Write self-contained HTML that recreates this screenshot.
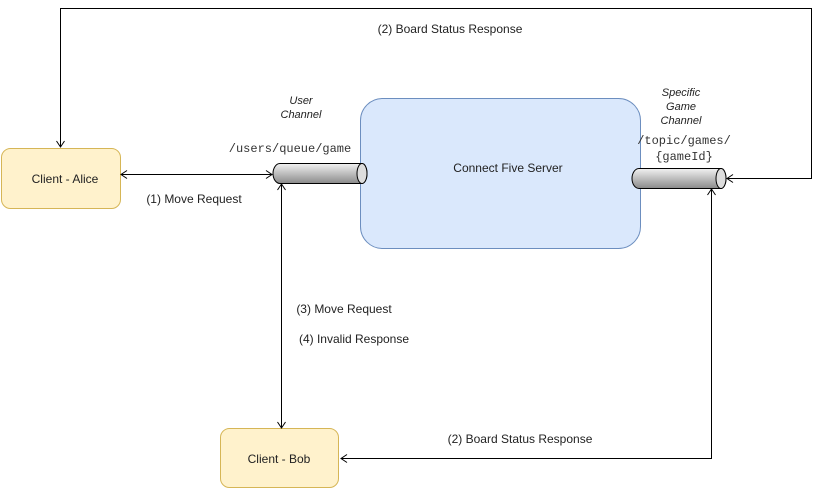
<!DOCTYPE html>
<html><head><style>body{margin:0;background:#fff}svg{display:block}</style></head><body>
<svg width="820" height="489" xmlns="http://www.w3.org/2000/svg" font-family="Liberation Sans, sans-serif" font-size="12">
<defs>
<linearGradient id="g" x1="0" y1="0" x2="0" y2="1"><stop offset="0" stop-color="#f2f2f2"/><stop offset="1" stop-color="#8a8a8a"/></linearGradient>
</defs>
<rect x="360.5" y="98.5" width="280" height="150" rx="22" fill="#dae8fc" stroke="#6c8ebf"/>
<text x="508" y="172" text-anchor="middle" fill="#222">Connect Five Server</text>
<rect x="1.5" y="148.5" width="119" height="60" rx="9" fill="#fff2cc" stroke="#d6b656"/>
<text x="65" y="183" text-anchor="middle" fill="#222">Client - Alice</text>
<rect x="220.5" y="428.5" width="118" height="59" rx="9" fill="#fff2cc" stroke="#d6b656"/>
<text x="279" y="463" text-anchor="middle" fill="#222">Client - Bob</text>
<path d="M280 163.5 H362 A5 10 0 0 1 362 183.5 H280 A7 10 0 0 1 280 163.5 Z" fill="url(#g)" stroke="#000"/>
<ellipse cx="362" cy="173.5" rx="5" ry="10" fill="#ddd" stroke="#000"/>
<path d="M639 168.5 H721 A5 10 0 0 1 721 188.5 H639 A7 10 0 0 1 639 168.5 Z" fill="url(#g)" stroke="#000"/>
<ellipse cx="721" cy="178.5" rx="5" ry="10" fill="#ddd" stroke="#000"/>
<g stroke="#000" fill="none">
<path d="M121 174.5 H272"/>
<path d="M127 170.5 L121 174.5 L127 178.5 M266 170.5 L272 174.5 L266 178.5"/>
<path d="M60.5 147 V8.5 H811.5 V178.5 H727"/>
<path d="M56.5 141 L60.5 147 L64.5 141 M733 174.5 L727 178.5 L733 182.5"/>
<path d="M281.5 184 V428"/>
<path d="M277.5 190 L281.5 184 L285.5 190 M277.5 422 L281.5 428 L285.5 422"/>
<path d="M341 458.5 H711.5 V189"/>
<path d="M347 454.5 L341 458.5 L347 462.5 M707.5 195 L711.5 189 L715.5 195"/>
</g>
<g fill="#222">
<text x="450" y="33" text-anchor="middle">(2) Board Status Response</text>
<text x="194" y="203" text-anchor="middle">(1) Move Request</text>
<text x="344" y="313" text-anchor="middle">(3) Move Request</text>
<text x="354" y="343" text-anchor="middle">(4) Invalid Response</text>
<text x="520" y="443" text-anchor="middle">(2) Board Status Response</text>
<g font-style="italic" font-size="11" text-anchor="middle">
<text x="301" y="104">User</text><text x="301" y="118">Channel</text>
<text x="681" y="96">Specific</text><text x="681" y="110">Game</text><text x="681" y="124">Channel</text>
</g>
<g font-family="Liberation Mono, monospace" font-size="12" text-anchor="middle" fill="#333">
<text x="290" y="152">/users/queue/game</text>
<text x="684" y="144">/topic/games/</text>
<text x="684" y="160">{gameId}</text>
</g>
</g>
</svg>
</body></html>
